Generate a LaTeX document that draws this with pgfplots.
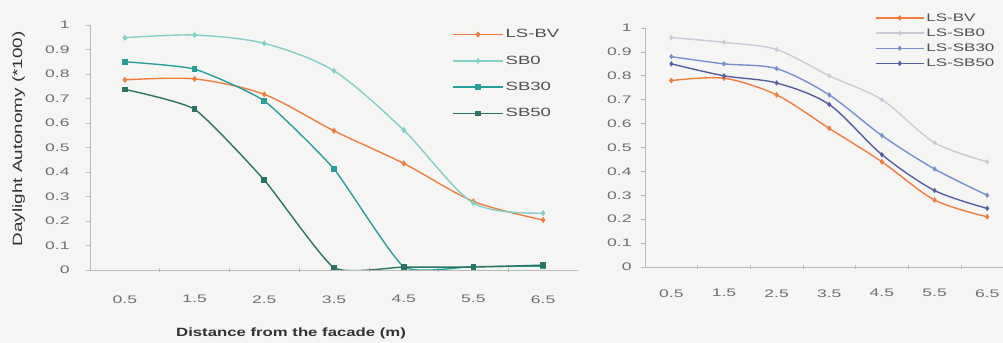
\documentclass[border=0pt]{standalone}
\usepackage{fontspec}
\setmainfont{Liberation Sans}
\newfontfamily\tickfont{Liberation Sans}[FakeStretch=1.6]
\newfontfamily\legfont{Liberation Sans}[FakeStretch=1.55]
\newfontfamily\labfont{Liberation Sans}[FakeStretch=1.4]
\usepackage{pgfplots}
\pgfplotsset{compat=1.18}
\definecolor{cBV}{RGB}{238,125,62}
\definecolor{cSB0}{RGB}{130,208,200}
\definecolor{cSB30}{RGB}{40,158,156}
\definecolor{cSB50}{RGB}{45,115,100}
\definecolor{rSB0}{RGB}{200,204,214}
\definecolor{rSB30}{RGB}{120,145,205}
\definecolor{rSB50}{RGB}{85,95,160}
\definecolor{bg}{RGB}{245,245,243}
\definecolor{tickc}{RGB}{110,110,110}
\definecolor{legc}{RGB}{80,80,80}
\definecolor{labc}{RGB}{50,50,55}
\pgfplotsset{
  common/.style={
    scale only axis, anchor=south west,
    axis lines*=left,
    axis line style={draw=gray!55, line width=0.7pt},
    xmin=0, ymin=0, ymax=1,
    xtick={1,2,3,4,5,6}, xticklabels={},
    extra x ticks={0.5,1.5,2.5,3.5,4.5,5.5,6.5},
    extra x tick labels={0.5,1.5,2.5,3.5,4.5,5.5,6.5},
    extra x tick style={tick style={draw=none}},
    ytick={0,0.1,0.2,0.3,0.4,0.5,0.6,0.7,0.8,0.9,1},
    yticklabels={0,0.1,0.2,0.3,0.4,0.5,0.6,0.7,0.8,0.9,1},
    tick style={draw=gray!55, line width=0.6pt},
    major tick length=4pt,
    xtick align=center, ytick align=outside,
    tick label style={font=\tickfont\fontsize{11}{13}\selectfont, text=tickc},
    legend cell align=left,
    legend image code/.code={\draw[line width=1.4pt, mark repeat=2,mark phase=2] plot coordinates {(0pt,0pt) (25bp,0pt) (50bp,0pt)};},
  },
  ln/.style={line width=1.4pt, smooth, tension=#1},
}
\begin{document}
\begin{tikzpicture}
\path[use as bounding box, fill=bg] (0,0) rectangle (1003bp,343bp);
% left chart
\begin{axis}[common, at={(90bp,73bp)}, width=488bp, height=245bp, xmax=7,
  x tick label style={yshift=-20pt},
  y tick label style={xshift=-13pt},
  xlabel={\bfseries Distance from the facade (m)},
  xlabel style={font=\labfont\fontsize{12}{14}\selectfont, text=labc, at={(axis description cs:0.412,-0.257)}, anchor=center},
  ylabel={Daylight Autonomy (*100)},
  ylabel style={font=\labfont\fontsize{13.5}{15}\selectfont, text=labc, at={(axis description cs:-0.146,0.535)}, anchor=center},
  legend style={at={(axis description cs:0.742,0.99)}, anchor=north west, draw=none, fill=none, inner sep=0pt,
    font=\legfont\fontsize{12}{14}\selectfont, text=legc, row sep=12.5pt},
]
\addplot[cBV, ln=0.5, mark=diamond*, mark size=2pt] coordinates {(0.5,0.776) (1.5,0.78) (2.5,0.717) (3.5,0.568) (4.5,0.435) (5.5,0.28) (6.5,0.204)};
\addlegendentry{LS-BV}
\addplot[cSB0, ln=0.5, mark=diamond*, mark size=2pt] coordinates {(0.5,0.948) (1.5,0.959) (2.5,0.925) (3.5,0.813) (4.5,0.571) (5.5,0.273) (6.5,0.232)};
\addlegendentry{SB0}
\addplot[cSB30, ln=0.3, mark=square*, mark size=2.2pt] coordinates {(0.5,0.85) (1.5,0.82) (2.5,0.69) (3.5,0.412) (4.5,0.014) (5.5,0.014) (6.5,0.016)};
\addlegendentry{SB30}
\addplot[cSB50, ln=0.3, mark=square*, mark size=2.2pt] coordinates {(0.5,0.737) (1.5,0.656) (2.5,0.367) (3.5,0.01) (4.5,0.012) (5.5,0.012) (6.5,0.02)};
\addlegendentry{SB50}
\end{axis}
% right chart
\begin{axis}[common, at={(645bp,76bp)}, width=358bp, height=239bp, xmax=6.8,
  x tick label style={yshift=-17pt},
  y tick label style={xshift=-6pt},
  legend style={at={(axis description cs:0.642,1.07)}, anchor=north west, draw=none, fill=none, inner sep=0pt,
    font=\legfont\fontsize{11}{13}\selectfont, text=legc, row sep=2pt},
  legend image code/.code={\draw[line width=1.4pt, mark repeat=2,mark phase=2] plot coordinates {(0pt,0pt) (24bp,0pt) (48bp,0pt)};},
]
\addplot[cBV, ln=0.5, mark=diamond*, mark size=1.8pt] coordinates {(0.5,0.78) (1.5,0.79) (2.5,0.72) (3.5,0.58) (4.5,0.44) (5.5,0.28) (6.5,0.21)};
\addlegendentry{LS-BV}
\addplot[rSB0, ln=0.5, mark=diamond*, mark size=1.6pt] coordinates {(0.5,0.96) (1.5,0.94) (2.5,0.91) (3.5,0.80) (4.5,0.70) (5.5,0.52) (6.5,0.44)};
\addlegendentry{LS-SB0}
\addplot[rSB30, ln=0.5, mark=diamond*, mark size=1.6pt] coordinates {(0.5,0.88) (1.5,0.85) (2.5,0.83) (3.5,0.72) (4.5,0.55) (5.5,0.41) (6.5,0.30)};
\addlegendentry{LS-SB30}
\addplot[rSB50, ln=0.5, mark=diamond*, mark size=1.6pt] coordinates {(0.5,0.85) (1.5,0.80) (2.5,0.77) (3.5,0.68) (4.5,0.47) (5.5,0.32) (6.5,0.245)};
\addlegendentry{LS-SB50}
\end{axis}
\end{tikzpicture}
\end{document}
